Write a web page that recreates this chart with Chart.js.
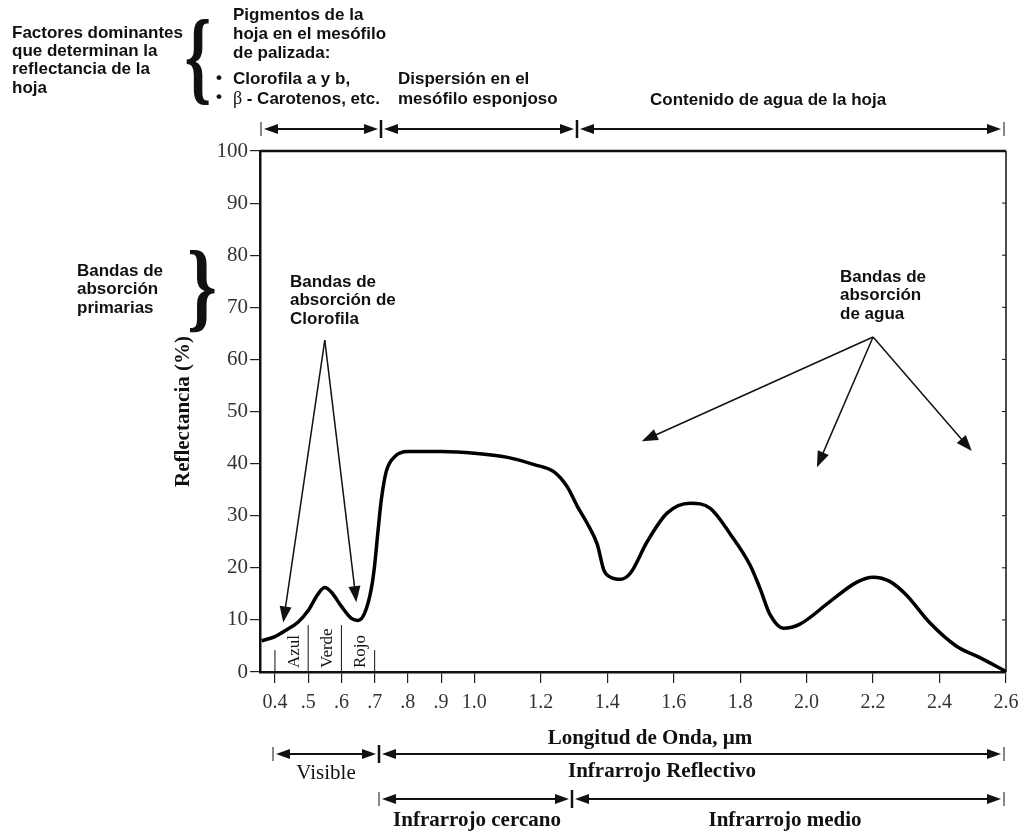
<!DOCTYPE html>
<html>
<head>
<meta charset="utf-8">
<script src="https://cdn.jsdelivr.net/npm/chart.js@4.4.0/dist/chart.umd.min.js"></script>
<style>
  html, body { margin: 0; padding: 0; background: #fff; }
  canvas { display: block; }
</style>
</head>
<body>
<canvas id="chart" width="1020" height="835"></canvas>
<script>
// wavelength (µm) and reflectance (%)
const wavelength = [0.36, 0.40, 0.43, 0.47, 0.50, 0.53, 0.55, 0.57, 0.60, 0.63, 0.65, 0.67, 0.69, 0.70,
  0.71, 0.72, 0.735, 0.76, 0.80, 0.90, 1.00, 1.10, 1.18, 1.24, 1.28, 1.31, 1.34, 1.37, 1.39, 1.41,
  1.44, 1.47, 1.52, 1.58, 1.65, 1.71, 1.77, 1.83, 1.86, 1.89, 1.93, 1.98, 2.07, 2.15, 2.20, 2.25,
  2.30, 2.37, 2.45, 2.52, 2.60];
const reflectance = [6.0, 6.8, 7.9, 9.6, 11.8, 15.0, 16.2, 15.3, 12.6, 10.3, 9.9, 11.3, 16.0, 20.5,
  27.0, 33.0, 38.5, 41.3, 42.3, 42.3, 42.0, 41.2, 39.8, 38.4, 35.5, 31.8, 28.5, 24.5, 19.5, 18.2,
  17.8, 19.0, 25.0, 30.5, 32.4, 31.4, 26.5, 20.5, 16.0, 11.0, 8.4, 9.2, 13.5, 17.2, 18.2, 17.4,
  14.8, 9.5, 5.0, 2.8, 0.1];

const tickValues = [0.4, 0.5, 0.6, 0.7, 0.8, 0.9, 1.0, 1.2, 1.4, 1.6, 1.8, 2.0, 2.2, 2.4, 2.6];
const tickLabels = ['0.4', '.5', '.6', '.7', '.8', '.9', '1.0', '1.2', '1.4', '1.6', '1.8', '2.0', '2.2', '2.4', '2.6'];

// band separators under the curve (µm) and their labels
const bandEdges = [0.4, 0.5, 0.6, 0.7];
const bandNames = ['Azul', 'Verde', 'Rojo'];

// arrow targets [µm, %]
const chlorophyllApex = [0.55, 63.7];
const chlorophyllTips = [[0.425, 9.5], [0.645, 13.4]];
const waterApex = [2.2, 64.3];
const waterTips = [[1.504, 44.3], [2.031, 39.3], [2.497, 42.4]];

const SANS = '"Liberation Sans", Arial, sans-serif';
const SERIF = '"Liberation Serif", "Times New Roman", serif';

function arrowHead(ctx, x0, y0, x1, y1, len, half) {
  const a = Math.atan2(y1 - y0, x1 - x0);
  const c = Math.cos(a), s = Math.sin(a);
  ctx.beginPath();
  ctx.moveTo(x1, y1);
  ctx.lineTo(x1 - len * c + half * s, y1 - len * s - half * c);
  ctx.lineTo(x1 - len * c - half * s, y1 - len * s + half * c);
  ctx.closePath();
  ctx.fill();
}

function arrow(ctx, x0, y0, x1, y1, len, half, lw) {
  const a = Math.atan2(y1 - y0, x1 - x0);
  ctx.lineWidth = lw;
  ctx.beginPath();
  ctx.moveTo(x0, y0);
  ctx.lineTo(x1 - (len - 2) * Math.cos(a), y1 - (len - 2) * Math.sin(a));
  ctx.stroke();
  arrowHead(ctx, x0, y0, x1, y1, len, half);
}

// |<---->|<---->| row
function spanRow(ctx, y, xs) {
  xs.forEach((x, i) => {
    const inner = i > 0 && i < xs.length - 1;
    ctx.lineWidth = inner ? 2.5 : 1;
    ctx.beginPath();
    ctx.moveTo(x, y - (inner ? 9 : 7));
    ctx.lineTo(x, y + (inner ? 9 : 7));
    ctx.stroke();
  });
  for (let i = 0; i < xs.length - 1; i++) {
    const a = xs[i] + 3, b = xs[i + 1] - 3;
    ctx.lineWidth = 1.8;
    ctx.beginPath();
    ctx.moveTo(a + 8, y);
    ctx.lineTo(b - 8, y);
    ctx.stroke();
    arrowHead(ctx, b, y, a, y, 14, 5);
    arrowHead(ctx, a, y, b, y, 14, 5);
  }
}

function lines(ctx, arr, x, y, step) {
  arr.forEach((t, i) => ctx.fillText(t, x, y + i * step));
}

function brace(ctx, ch, x, yc, sx, sy) {
  ctx.save();
  ctx.translate(x, yc);
  ctx.scale(sx, sy);
  ctx.font = 'bold 40px ' + SERIF;
  ctx.textAlign = 'center';
  ctx.textBaseline = 'middle';
  ctx.fillText(ch, 0, 0);
  ctx.restore();
}

const annotate = {
  id: 'annotate',
  afterDraw(chart) {
    const { ctx, chartArea: area, scales: { x, y } } = chart;
    const px = v => x.getPixelForValue(v);
    const py = v => y.getPixelForValue(v);
    ctx.save();
    ctx.fillStyle = '#111';
    ctx.strokeStyle = '#111';

    // frame: top and right border, inner ticks on the right
    ctx.lineWidth = 2.5;
    ctx.beginPath();
    ctx.moveTo(area.left, area.top);
    ctx.lineTo(area.right, area.top);
    ctx.stroke();
    ctx.lineWidth = 1.5;
    ctx.beginPath();
    ctx.moveTo(area.right, area.top);
    ctx.lineTo(area.right, area.bottom);
    ctx.stroke();
    ctx.lineWidth = 1;
    for (let v = 10; v < 100; v += 10) {
      ctx.beginPath();
      ctx.moveTo(area.right, py(v));
      ctx.lineTo(area.right - 4, py(v));
      ctx.stroke();
    }

    // colour band separators and labels
    ctx.lineWidth = 1;
    bandEdges.forEach((w, i) => {
      const top = (i === 0 || i === bandEdges.length - 1) ? 4.2 : 9;
      ctx.beginPath();
      ctx.moveTo(px(w), py(top));
      ctx.lineTo(px(w), area.bottom);
      ctx.stroke();
    });
    ctx.font = '17px ' + SERIF;
    ctx.textAlign = 'left';
    ctx.textBaseline = 'middle';
    bandNames.forEach((name, i) => {
      const cx = (px(bandEdges[i]) + px(bandEdges[i + 1])) / 2 + 3;
      ctx.save();
      ctx.translate(cx, area.bottom - 4);
      ctx.rotate(-Math.PI / 2);
      ctx.fillText(name, 0, 0);
      ctx.restore();
    });

    // absorption arrows
    chlorophyllTips.forEach(t => arrow(ctx, px(chlorophyllApex[0]), py(chlorophyllApex[1]), px(t[0]), py(t[1]), 16, 6, 1.5));
    waterTips.forEach(t => arrow(ctx, px(waterApex[0]), py(waterApex[1]), px(t[0]), py(t[1]), 16, 6, 1.5));

    // bold sans notes
    ctx.font = 'bold 17px ' + SANS;
    ctx.textAlign = 'left';
    ctx.textBaseline = 'middle';
    lines(ctx, ['Bandas de', 'absorción de', 'Clorofila'], 290, 282, 18.5);
    lines(ctx, ['Bandas de', 'absorción', 'de agua'], 840, 277, 18.5);
    lines(ctx, ['Bandas de', 'absorción', 'primarias'], 77, 271, 18.5);
    lines(ctx, ['Factores dominantes', 'que determinan la', 'reflectancia de la', 'hoja'], 12, 33, 18.3);
    lines(ctx, ['Pigmentos de la', 'hoja en el mesófilo', 'de palizada:'], 233, 15, 19);
    ctx.fillText('•', 216, 78);
    ctx.fillText('Clorofila a y b,', 233, 79);
    ctx.fillText('•', 216, 97);
    ctx.font = '18px ' + SERIF;
    ctx.fillText('β', 233, 99);
    ctx.font = 'bold 17px ' + SANS;
    ctx.fillText(' - Carotenos, etc.', 242, 99);
    lines(ctx, ['Dispersión en el', 'mesófilo esponjoso'], 398, 79, 20);
    ctx.fillText('Contenido de agua de la hoja', 650, 100);

    brace(ctx, '{', 198, 64, 1.7, 2.6);
    brace(ctx, '}', 202, 293, 1.9, 2.5);

    // header arrows
    spanRow(ctx, 129, [261, 381, 577, 1004]);

    // footer
    ctx.textAlign = 'center';
    ctx.font = 'bold 21px ' + SERIF;
    ctx.fillText('Longitud de Onda, µm', 650, 739);
    spanRow(ctx, 754, [273, 379, 1004]);
    ctx.font = '21px ' + SERIF;
    ctx.fillText('Visible', 326, 773);
    ctx.font = 'bold 21px ' + SERIF;
    ctx.fillText('Infrarrojo Reflectivo', 662, 772);
    spanRow(ctx, 799, [379, 572, 1004]);
    ctx.fillText('Infrarrojo cercano', 477, 821);
    ctx.fillText('Infrarrojo medio', 785, 821);

    ctx.restore();
  }
};

Chart.defaults.font.family = SERIF;
Chart.defaults.color = '#222';

new Chart(document.getElementById('chart'), {
  type: 'line',
  data: {
    datasets: [{
      data: wavelength.map((w, i) => ({ x: w, y: reflectance[i] })),
      borderColor: '#000',
      borderWidth: 3.5,
      pointRadius: 0,
      cubicInterpolationMode: 'monotone',
      fill: false
    }]
  },
  options: {
    responsive: false,
    animation: false,
    layout: { padding: { left: 167, right: 14, top: 151, bottom: 123 } },
    plugins: { legend: { display: false }, tooltip: { enabled: false } },
    scales: {
      x: {
        type: 'linear',
        min: 0.355,
        max: 2.6,
        afterFit: s => { s.height = 40; s.paddingLeft = 0; s.paddingRight = 0; },
        afterBuildTicks: s => { s.ticks = tickValues.map(v => ({ value: v })); },
        ticks: {
          autoSkip: false,
          maxRotation: 0,
          padding: 8,
          font: { size: 20 },
          color: '#333',
          callback: v => tickLabels[tickValues.indexOf(v)]
        },
        grid: { drawOnChartArea: false, drawTicks: true, tickLength: 11, color: '#222', lineWidth: 1.2 },
        border: { display: true, color: '#111', width: 2.5 }
      },
      y: {
        min: 0,
        max: 100,
        afterFit: s => { s.width = 93; s.paddingTop = 0; s.paddingBottom = 0; },
        ticks: { stepSize: 10, padding: 2, font: { size: 21 }, color: '#333' },
        title: { display: true, text: 'Reflectancia (%)', font: { size: 21, weight: 'bold' }, color: '#111' },
        grid: { drawOnChartArea: false, drawTicks: true, tickLength: 10, color: '#222', lineWidth: 1.2 },
        border: { display: true, color: '#111', width: 2.5 }
      }
    }
  },
  plugins: [annotate]
});
</script>
</body>
</html>
